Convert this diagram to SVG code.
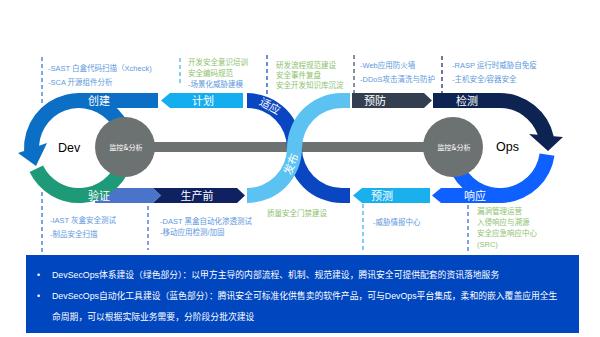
<svg xmlns="http://www.w3.org/2000/svg" width="600" height="337" viewBox="0 0 600 337">
<style>
.lbl{font-family:"Noto Sans CJK SC","Liberation Sans",sans-serif;font-size:11px;fill:#fff;text-anchor:middle}
.sm{font-family:"Liberation Sans","Noto Sans CJK SC",sans-serif;font-size:7.5px}
.g{fill:#8CC26C}
.b{fill:#5E98DC}
.mon{font-family:"Noto Sans CJK SC",sans-serif;font-size:7.2px;fill:#fff;text-anchor:middle}
.big{font-family:"Liberation Sans",Arial,sans-serif;font-size:12.5px;fill:#000}
.dash{stroke-width:1.3;stroke-dasharray:4 3;fill:none}
.note{font-family:"Liberation Sans","Noto Sans CJK SC",sans-serif;font-size:8.8px;fill:#fff}
</style>
<rect width="600" height="337" fill="#fff"/>
<g id="connectors">
<line class="dash" x1="42" y1="57" x2="42" y2="106" stroke="#3C78D8"/>
<line class="dash" x1="180" y1="58" x2="180" y2="86" stroke="#45B8F0"/>
<line class="dash" x1="267" y1="55" x2="267" y2="95" stroke="#1E4FC4"/>
<line class="dash" x1="354" y1="55" x2="354" y2="93" stroke="#4B5568"/>
<line class="dash" x1="442" y1="56" x2="442" y2="93" stroke="#243760"/>
<line class="dash" x1="42" y1="192" x2="42" y2="252" stroke="#3C6FD0"/>
<line class="dash" x1="148" y1="206" x2="148" y2="250" stroke="#3C6FD0"/>
<line class="dash" x1="363" y1="204" x2="363" y2="252" stroke="#40B2EE"/>
<line class="dash" x1="468" y1="205" x2="468" y2="252" stroke="#3C6FD0"/>
<rect x="125" y="142" width="328" height="10" fill="#6C7272"/>
</g>
<g id="adapt">
<path d="M247,93 A55,55 0 0 1 302,148 A40,40 0 0 0 342,188 L350,188 L350,203 L342,203 A55,55 0 0 1 287,148 A40,40 0 0 0 247,108 Z" fill="#0A46C2"/>
<text class="lbl" transform="translate(270,106) rotate(29)" y="4">适应</text>
</g>
<g id="release">
<path d="M247,203 A55,55 0 0 0 302,148 A40,40 0 0 1 342,108 L350,108 L350,93 L342,93 A55,55 0 0 0 287,148 A40,40 0 0 1 247,188 Z" fill="#5BC2F2"/>
<text class="lbl" transform="translate(291,164) rotate(-69)" y="4">发布</text>
</g>
<g id="create">
<rect x="79" y="93" width="79" height="15" fill="#0B6FC6"/>
<path d="M128.85,124.76 A55,55 0 0 0 24.08,150.9 L18,153 L36,166 L47,143 L39.07,145.74 A40,40 0 0 1 115.25,131.1 Z" fill="#0B6FC6"/>
<text class="lbl" x="99" y="105">创建</text>
</g>
<g id="plan">
<polygon points="161,100.5 170,93 243,93 243,108 170,108" fill="#14AEEF"/>
<text class="lbl" x="203" y="105">计划</text>
</g>
<g id="verify">
<polygon points="95,188 153,188 161,195.5 153,203 95,203" fill="#4A74C9"/>
<path d="M29.57,172.11 A55,55 0 0 0 130.68,166.81 L116.59,161.68 A40,40 0 0 1 43.05,165.54 Z" fill="#1E9A78"/>
<text class="lbl" x="99" y="200">验证</text>
</g>
<g id="preprod">
<polygon points="153,188 237,188 245,195.5 237,203 153,203 161,195.5" fill="#0F2160"/>
<text class="lbl" x="197" y="200">生产前</text>
</g>
<g id="prevent">
<polygon points="352,93 424,93 432,100.5 424,108 352,108" fill="#333F50"/>
<text class="lbl" x="375" y="105">预防</text>
</g>
<g id="detect">
<path d="M433,93 L500,93 A55,55 0 0 1 553.7,136.2 L563,137 L548,151 L529,134 L537.7,134.8 A40,40 0 0 0 500,108 L433,108 Z" fill="#0D2452"/>
<text class="lbl" x="467" y="105">检测</text>
</g>
<g id="respond">
<path d="M554.47,155.65 A55,55 0 0 1 448.32,166.81 L462.41,161.68 A40,40 0 0 0 539.61,153.57 Z" fill="#0E60FF"/>
<polygon points="432,195.5 441,188 500,188 500,203 441,203" fill="#0E60FF"/>
<text class="lbl" x="475" y="200">响应</text>
</g>
<g id="predict">
<polygon points="353,195.5 362,188 430,188 430,203 362,203" fill="#1AB0EE"/>
<text class="lbl" x="382" y="200">预测</text>
</g>
<g id="monitor-dev">
<circle cx="125" cy="147" r="30" fill="#6C7272"/>
<text class="mon" x="126" y="149.5">监控&amp;分析</text>
</g>
<g id="monitor-ops">
<circle cx="453" cy="147" r="30" fill="#6C7272"/>
<text class="mon" x="454" y="149.5">监控&amp;分析</text>
</g>
<g id="dev"><text class="big" x="58" y="152">Dev</text></g>
<g id="ops"><text class="big" x="496" y="151">Ops</text></g>
<g id="create-notes">
<text class="sm b" x="48" y="70.5">-SAST 白盒代码扫描（Xcheck)</text>
<text class="sm b" x="48" y="84.5">-SCA 开源组件分析</text>
</g>
<g id="plan-notes">
<text class="sm g" x="188" y="65.4">开发安全意识培训</text>
<text class="sm g" x="188" y="76">安全编码规范</text>
<text class="sm b" x="188" y="86.7">-场景化威胁建模</text>
</g>
<g id="adapt-notes">
<text class="sm g" x="276" y="67.7">研发流程规范建设</text>
<text class="sm g" x="276" y="77.7">安全事件复盘</text>
<text class="sm g" x="276" y="87.7">安全开发知识库沉淀</text>
</g>
<g id="prevent-notes">
<text class="sm b" x="360" y="67.7">-Web应用防火墙</text>
<text class="sm b" x="360" y="82">-DDoS攻击清洗与防护</text>
</g>
<g id="detect-notes">
<text class="sm b" x="452" y="67.7">-RASP 运行时威胁自免疫</text>
<text class="sm b" x="452" y="82">-主机安全/容器安全</text>
</g>
<g id="verify-notes">
<text class="sm b" x="50" y="222.7">-IAST 灰盒安全测试</text>
<text class="sm b" x="50" y="236.7">-制品安全扫描</text>
</g>
<g id="preprod-notes">
<text class="sm b" x="160" y="223.7">-DAST 黑盒自动化渗透测试</text>
<text class="sm b" x="160" y="235">-移动应用检测/加固</text>
</g>
<g id="release-notes">
<text class="sm g" x="267" y="216">质量安全门禁建设</text>
</g>
<g id="predict-notes">
<text class="sm b" x="373" y="225.4">-威胁情报中心</text>
</g>
<g id="respond-notes">
<text class="sm g" x="477" y="213.7">漏洞管理运营</text>
<text class="sm g" x="477" y="224.7">入侵响应与溯源</text>
<text class="sm g" x="477" y="235.7">安全应急响应中心</text>
<text class="sm g" x="477" y="246.7">(SRC)</text>
</g>
<g id="summary">
<rect x="26" y="255" width="553" height="78" fill="#0046BE"/>
<text class="note" x="37" y="278">•</text>
<text class="note" x="52" y="278">DevSecOps体系建设（绿色部分）：以甲方主导的内部流程、机制、规范建设，腾讯安全可提供配套的资讯落地服务</text>
<text class="note" x="37" y="298.5">•</text>
<text class="note" x="52" y="298.5">DevSecOps自动化工具建设（蓝色部分）：腾讯安全可标准化供售卖的软件产品，可与DevOps平台集成，柔和的嵌入覆盖应用全生</text>
<text class="note" x="52" y="319.5">命周期，可以根据实际业务需要，分阶段分批次建设</text>
</g>
</svg>
